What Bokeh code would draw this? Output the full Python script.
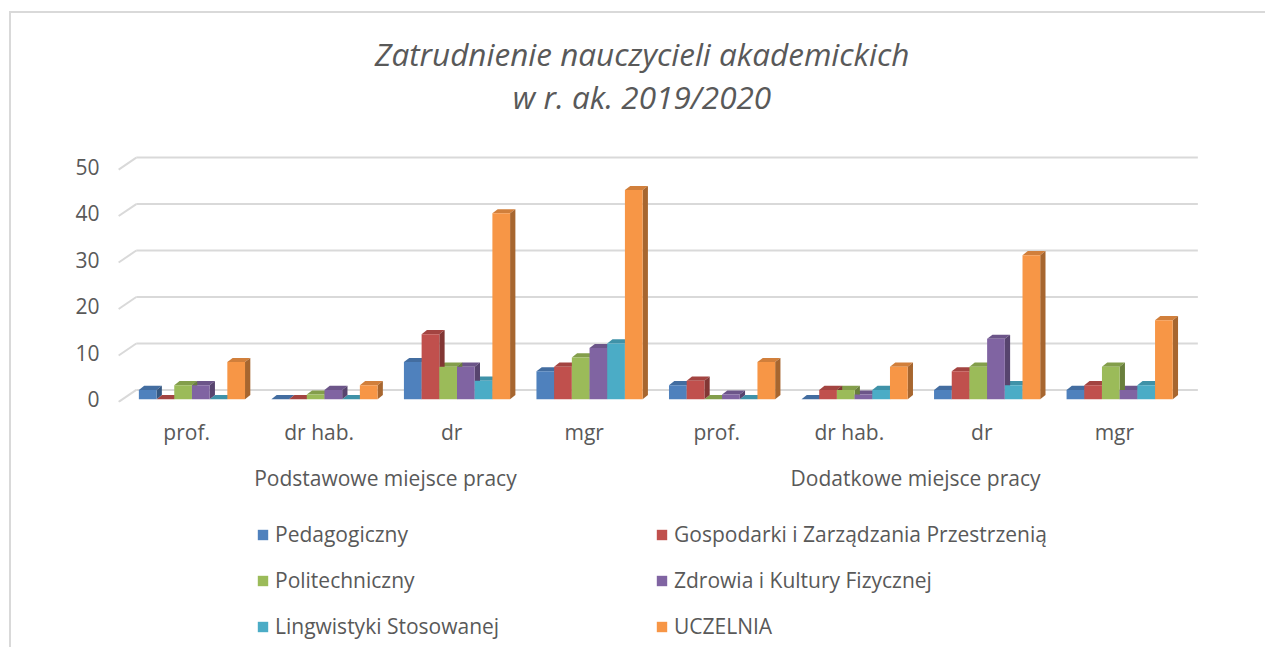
from bokeh.plotting import figure
from bokeh.layouts import column
from bokeh.models import (FactorRange, Range1d, Label, Legend, LegendItem, FixedTicker)
from bokeh.embed import file_html
from bokeh.resources import INLINE

# ---------------- data ----------------
title_lines = ["Zatrudnienie nauczycieli akademickich", "w r. ak. 2019/2020"]
groups = ["Podstawowe miejsce pracy", "Dodatkowe miejsce pracy"]
levels = ["prof.", "dr hab.", "dr", "mgr"]
series_names = ["Pedagogiczny", "Gospodarki i Zarządzania Przestrzenią", "Politechniczny",
                "Zdrowia i Kultury Fizycznej", "Lingwistyki Stosowanej", "UCZELNIA"]
pedagogiczny = [2, 0, 8, 6, 3, 0, 2, 2]
gospodarki = [0, 0, 14, 7, 4, 2, 6, 3]
politechniczny = [3, 1, 7, 9, 0, 2, 7, 7]
zdrowia = [3, 2, 7, 11, 1, 1, 13, 2]
lingwistyki = [0, 0, 4, 12, 0, 2, 3, 3]
uczelnia = [8, 3, 40, 45, 8, 7, 31, 17]
y_ticks = [0, 10, 20, 30, 40, 50]
colors = ["#4f81bd", "#c0504d", "#9bbb59", "#8064a2", "#4bacc6", "#f79646"]

values = [pedagogiczny, gospodarki, politechniczny, zdrowia, lingwistyki, uczelnia]
factors = [(g, l) for g in groups for l in levels]

# ---------------- style ----------------
FONT = "Open Sans"
TXT = "#595959"
GRID = "#d9d9d9"
BAR_W = 0.1335
SHIFT = 0.04
DX = 0.04
DY = 0.9
WALL_DX = 0.12
WALL_DY = 2.0
W = 1254


def shade(hexcol, f):
    h = hexcol.lstrip("#")
    r, g, b = (int(h[i:i + 2], 16) for i in (0, 2, 4))
    return "#%02x%02x%02x" % (int(r * f), int(g * f), int(b * f))


# frame reaches up to the top edge so the two title lines can sit inside it
p = figure(width=W, height=500,
           x_range=FactorRange(*factors, group_padding=0, factor_padding=0,
                               range_padding=0.15, range_padding_units="absolute"),
           y_range=Range1d(-0.7, 83.0),
           output_backend="svg", toolbar_location=None,
           min_border_left=89, min_border_right=W - 89 - 1100,
           min_border_top=0, min_border_bottom=111)
p.outline_line_color = None
p.xgrid.visible = False
p.ygrid.visible = False
p.background_fill_color = "white"
p.border_fill_color = "white"

n_cat = len(factors)
# back-wall gridlines and the diagonal floor/wall edges
p.segment(x0=[WALL_DX] * len(y_ticks), y0=[t + WALL_DY for t in y_ticks],
          x1=[n_cat + 0.13] * len(y_ticks), y1=[t + WALL_DY for t in y_ticks],
          line_color=GRID, line_width=2)
p.segment(x0=[-0.013] * len(y_ticks), y0=[t - 0.58 for t in y_ticks],
          x1=[WALL_DX] * len(y_ticks), y1=[t + WALL_DY for t in y_ticks],
          line_color=GRID, line_width=2)

n_s = len(series_names)
geo = []
for j in range(n_s):
    off = SHIFT + (j - (n_s - 1) / 2) * BAR_W
    geo.append([i + 0.5 + off for i in range(n_cat)])

# tops
for j in range(n_s):
    xs, ys = [], []
    for x, v in zip(geo[j], values[j]):
        l, r = x - BAR_W / 2, x + BAR_W / 2
        xs.append([l, r, r + DX, l + DX])
        ys.append([v, v, v + DY, v + DY])
    p.patches(xs, ys, fill_color=shade(colors[j], 0.85), line_color=None)
# sides
for j in range(n_s):
    xs, ys = [], []
    for x, v in zip(geo[j], values[j]):
        r = x + BAR_W / 2
        xs.append([r, r, r + DX, r + DX])
        ys.append([0, v, v + DY, DY])
    p.patches(xs, ys, fill_color=shade(colors[j], 0.68), line_color=None)
# fronts
for j in range(n_s):
    p.vbar(x=geo[j], top=values[j], bottom=0, width=BAR_W,
           fill_color=colors[j], line_color=None)

# axes
ya = p.yaxis[0]
ya.ticker = FixedTicker(ticks=y_ticks)
ya.axis_line_color = None
ya.major_tick_line_color = None
ya.minor_tick_line_color = None
ya.major_tick_out = 0
ya.major_tick_in = 0
ya.major_label_standoff = 1
ya.major_label_text_font = FONT
ya.major_label_text_font_size = "21px"
ya.major_label_text_color = TXT

xa = p.xaxis[0]
xa.axis_line_color = None
xa.major_tick_line_color = None
xa.minor_tick_line_color = None
xa.major_tick_out = 0
xa.major_tick_in = 0
xa.separator_line_color = None
xa.major_label_standoff = 15
xa.major_label_text_font = FONT
xa.major_label_text_font_size = "21px"
xa.major_label_text_color = TXT
xa.group_text_font = FONT
xa.group_text_font_size = "21px"
xa.group_text_color = TXT
xa.group_text_font_style = "normal"

# chart title: two centred lines
for line, ys in zip(title_lines, [349, 306]):
    p.add_layout(Label(x=541.5, y=ys, x_units="screen", y_units="screen", text=line,
                       text_align="center", text_baseline="middle", text_font=FONT,
                       text_font_size="31.5px", text_font_style="italic", text_color=TXT))

# ---------------- legend (separate strip below the chart) ----------------
p2 = figure(width=W, height=134, x_range=Range1d(0, 1), y_range=Range1d(0, 1),
            x_axis_type=None, y_axis_type=None, output_backend="svg",
            toolbar_location=None, min_border=0)
p2.outline_line_color = None
p2.xgrid.visible = False
p2.ygrid.visible = False
items = []
for name, col in zip(series_names, colors):
    # zero-height swatch that only feeds the legend glyph
    r = p2.vbar(x=[0.5], top=[0], bottom=0, width=0.01, fill_color=col, line_color=None)
    items.append(LegendItem(label=name, renderers=[r]))
legend = Legend(items=items, orientation="horizontal", ncols=2, location=(156, 7),
                label_text_font=FONT, label_text_font_size="21px", label_text_color=TXT,
                glyph_width=13, glyph_height=13, label_standoff=6, label_width=362, spacing=18,
                padding=0, margin=0, border_line_color=None, background_fill_alpha=0)
p2.add_layout(legend, "center")

layout = column(p, p2, spacing=0)
layout.styles = {"border-left": "2px solid #d9d9d9", "border-top": "2px solid #d9d9d9",
                 "margin-left": "9px", "margin-top": "11px"}

open("out.html", "w").write(file_html(layout, INLINE))
